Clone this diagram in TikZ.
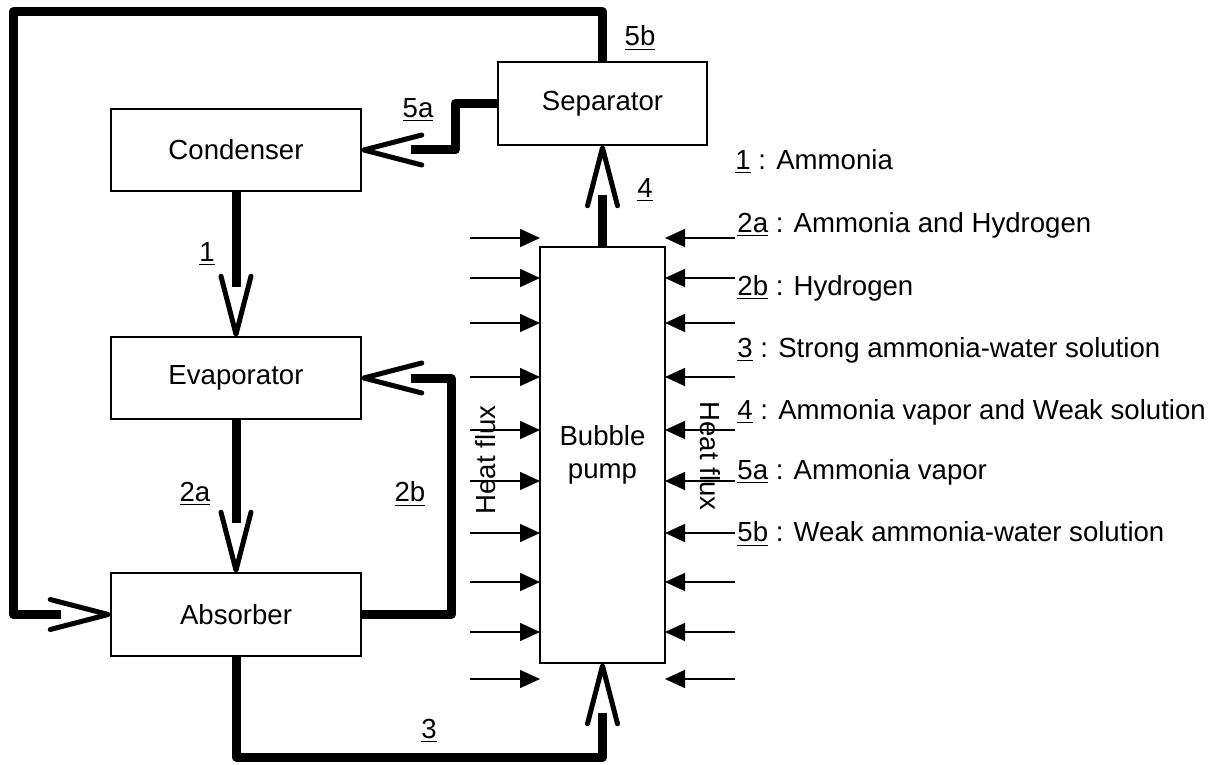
\documentclass[tikz,border=0pt]{standalone}
\usepackage{fontspec}
\setmainfont{Liberation Sans}
\usetikzlibrary{arrows.meta}
\pgfdeclarearrow{
  name=OpenV,
  setup code={
    \pgfarrowssettipend{0pt}
    \pgfarrowssetbackend{-30pt}
    \pgfarrowssetlineend{-24.5pt}
  },
  drawing code={
    \pgfsetlinewidth{2.5pt}
    \pgfsetroundcap
    \pgfsetroundjoin
    \pgfpathmoveto{\pgfqpoint{-30pt}{7.5pt}}
    \pgfpathlineto{\pgfqpoint{-1pt}{0pt}}
    \pgfpathlineto{\pgfqpoint{-30pt}{-7.5pt}}
    \pgfusepathqstroke
  }
}
\tikzset{
  unit/.style={draw=black, line width=0.75pt, inner sep=0pt, font=\fontsize{13.8}{16.5}\selectfont, align=center},
  flow/.style={draw=black, line width=4.5pt, line join=round, -{OpenV}},
  heat/.style={draw=black, line width=0.75pt, -{Triangle[length=10pt,width=9pt]}},
  lbl/.style={inner sep=0pt, font=\fontsize{13.8}{16}\selectfont},
  legend/.style={inner sep=0pt, anchor=west, font=\fontsize{13.8}{16}\selectfont}
}
\begin{document}
\begin{tikzpicture}[x=0.5pt, y=-0.5pt]
\useasboundingbox (0,0) rectangle (1216,765);
% units
\node[unit, minimum width=104.5pt, minimum height=41.5pt] (sep) at (602.5,103.5) {Separator};
\node[unit, minimum width=125pt, minimum height=41pt] (cond) at (236,150) {Condenser};
\node[unit, minimum width=125pt, minimum height=41pt] (evap) at (236,378) {Evaporator};
\node[unit, minimum width=125pt, minimum height=41.5pt] (abs) at (236,614.5) {Absorber};
\node[unit, minimum width=62.5pt, minimum height=208pt] (bp) at (602.5,455) {Bubble\\pump};
% corner coordinates
\coordinate (c5b1) at (602.5,12);
\coordinate (c5b2) at (13,12);
\coordinate (c5b3) at (13,614.5);
\coordinate (c5a1) at (455,103.5);
\coordinate (c5a2) at (455,150);
\coordinate (c2b1) at (451,614.5);
\coordinate (c2b2) at (451,378);
\coordinate (c31) at (236,757);
\coordinate (c32) at (602.5,757);
% flows
\draw[flow] (sep.north) -- (c5b1) -- (c5b2) -- (c5b3) -- (abs.west);
\draw[flow] (sep.west) -- (c5a1) -- (c5a2) -- (cond.east);
\draw[flow] (cond.south) -- (evap.north);
\draw[flow] (evap.south) -- (abs.north);
\draw[flow] (abs.east) -- (c2b1) -- (c2b2) -- (evap.east);
\draw[flow] (abs.south) -- (c31) -- (c32) -- (bp.south);
\draw[flow] (bp.north) -- (sep.south);
% flow labels
\node[lbl] (l5b) at (640,38) {\underline{5b}};
\node[lbl] (l5a) at (418,110) {\underline{5a}};
\node[lbl] (l4) at (645,190) {\underline{4}};
\node[lbl] (l1) at (207,254) {\underline{1}};
\node[lbl] (l2a) at (195,494) {\underline{2a}};
\node[lbl] (l2b) at (410,494) {\underline{2b}};
\node[lbl] (l3) at (429,731) {\underline{3}};
% heat flux arrows
\foreach \yy [count=\i] in {238,278,323,377,430,481,533,582,632,679} {
  \coordinate (hls\i) at (470,\yy);
  \coordinate (hle\i) at (540,\yy);
  \coordinate (hrs\i) at (735,\yy);
  \coordinate (hre\i) at (665,\yy);
  \draw[heat] (hls\i) -- (hle\i);
  \draw[heat] (hrs\i) -- (hre\i);
}
\node[lbl, rotate=90] (hfl) at (486,460) {Heat flux};
\node[lbl, rotate=-90] (hfr) at (710,456) {Heat flux};
% legend
\node[legend] (g1) at (735,162) {\underline{1} : Ammonia};
\node[legend] (g2a) at (737,225) {\underline{2a} : Ammonia and Hydrogen};
\node[legend] (g2b) at (737,288) {\underline{2b} : Hydrogen};
\node[legend] (g3) at (737,350) {\underline{3} : Strong ammonia-water solution};
\node[legend] (g4) at (737,412) {\underline{4} : Ammonia vapor and Weak solution};
\node[legend] (g5a) at (737,472) {\underline{5a} : Ammonia vapor};
\node[legend] (g5b) at (737,534) {\underline{5b} : Weak ammonia-water solution};
\end{tikzpicture}
\end{document}
